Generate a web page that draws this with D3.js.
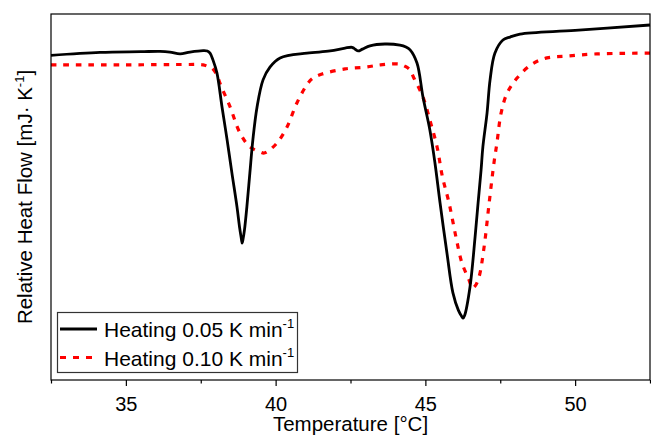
<!DOCTYPE html>
<html>
<head>
<meta charset="utf-8">
<script src="https://cdn.jsdelivr.net/npm/d3@7"></script>
<style>
  html, body { margin: 0; padding: 0; background: #fff; }
  svg { display: block; }
  text { font-family: "Liberation Sans", Arial, Helvetica, sans-serif; fill: #000; }
</style>
</head>
<body>
<svg id="chart" width="651" height="435"></svg>
<script>
// DSC heating scans: temperature [°C] vs relative heat flow (arbitrary offset units)
const tempSlow = [32.5, 34.14, 35.5, 36.14, 36.47, 36.81, 37.14, 37.58, 37.72, 37.81, 37.91, 38.04, 38.21, 38.38, 38.54, 38.71, 38.80, 38.86, 38.88, 38.91, 38.96, 39.04, 39.14, 39.24, 39.38, 39.58, 39.81, 40.15, 41.05, 41.82, 42.32, 42.55, 42.62, 42.75, 42.9, 43.15, 43.65, 44.15, 44.35, 44.49, 44.72, 44.92, 45.15, 45.32, 45.49, 45.72, 45.92, 46.10, 46.22, 46.26, 46.31, 46.49, 46.66, 46.76, 46.86, 46.92, 47.06, 47.16, 47.32, 47.59, 47.83, 48.16, 50.0, 52.5];
const flowSlow = [88.7, 89.5, 89.7, 89.8, 89.6, 89.1, 89.6, 90.0, 89.9, 89.3, 87.4, 83.9, 74.6, 65.6, 56.6, 47.3, 41.5, 38.4, 37.4, 38.4, 41.0, 47.3, 56.6, 65.6, 74.6, 82.0, 85.5, 88.0, 89.3, 89.9, 90.7, 90.9, 90.6, 89.9, 90.4, 91.3, 91.8, 91.5, 91.0, 90.2, 86.6, 77.3, 68.3, 59.3, 48.4, 34.7, 23.8, 19.1, 17.3, 16.9, 17.6, 25.4, 39.1, 48.4, 57.4, 63.7, 73.0, 82.0, 89.3, 92.9, 93.7, 94.5, 95.5, 97.0];

const tempFast = [32.5, 35.0, 37.0, 37.58, 37.81, 37.88, 38.04, 38.14, 38.48, 38.81, 39.14, 39.48, 39.60, 39.71, 40.05, 40.38, 40.71, 41.08, 41.25, 41.55, 42.32, 43.0, 43.5, 44.0, 44.15, 44.35, 44.49, 44.6, 44.92, 45.15, 45.39, 45.57, 45.79, 46.02, 46.22, 46.46, 46.56, 46.66, 46.79, 46.96, 47.13, 47.29, 47.39, 47.53, 47.73, 48.06, 48.56, 49.06, 49.73, 50.73, 52.5];
const flowFast = [86.1, 86.1, 86.2, 86.1, 85.4, 85.2, 83.4, 81.1, 74.6, 67.5, 63.7, 62.3, 62.0, 62.3, 64.8, 69.1, 75.7, 81.1, 82.5, 83.6, 85.0, 85.5, 86.1, 86.4, 86.3, 85.6, 84.7, 82.8, 77.3, 71.0, 63.7, 55.5, 48.4, 39.1, 32.0, 27.3, 25.1, 25.7, 28.1, 36.3, 48.4, 59.3, 64.8, 73.0, 78.4, 82.5, 86.3, 88.0, 88.5, 89.1, 89.3];

const majorTicks = [35, 40, 45, 50];
const minorTicks = [32.5, 37.5, 42.5, 47.5, 52.5];
const seriesNames = ["Heating 0.05 K min", "Heating 0.10 K min"];
const xTitle = "Temperature [°C]";
const yTitle = "Relative Heat Flow [mJ· K";

const svg = d3.select("#chart");
const margin = { left: 51, top: 14, right: 1, bottom: 55 };
const W = 651, H = 435;

const x = d3.scaleLinear().domain([32.5, 52.5]).range([margin.left, W - margin.right]);
const y = d3.scaleLinear().domain([0, 100]).range([H - margin.bottom, margin.top]);

// curves
const line = d3.line()
  .x(d => x(d[0]))
  .y(d => y(d[1]))
  .curve(d3.curveCatmullRom.alpha(0.5));

const slow = d3.zip(tempSlow, flowSlow);
const fast = d3.zip(tempFast, flowFast);

svg.append("path").datum(fast)
  .attr("d", line)
  .attr("fill", "none")
  .attr("stroke", "#ff0000")
  .attr("stroke-width", 3.2)
  .attr("stroke-dasharray", "5.5,7");

svg.append("path").datum(slow)
  .attr("d", line)
  .attr("fill", "none")
  .attr("stroke", "#000")
  .attr("stroke-width", 2.8)
  .attr("stroke-linejoin", "round");

// frame
svg.append("rect")
  .attr("x", margin.left).attr("y", margin.top)
  .attr("width", W - margin.right - margin.left)
  .attr("height", H - margin.bottom - margin.top)
  .attr("fill", "none").attr("stroke", "#000").attr("stroke-width", 1.2);

// bottom axis: major ticks with labels, minor ticks without
const gx = svg.append("g").attr("transform", `translate(0,${H - margin.bottom})`);
gx.call(d3.axisBottom(x).tickValues(majorTicks).tickSize(6).tickPadding(11).tickFormat(d3.format("d")));
gx.select(".domain").remove();
gx.selectAll(".tick line").attr("stroke", "#000").attr("stroke-width", 1.2);
gx.selectAll(".tick text").attr("font-size", 20).attr("font-family", "Liberation Sans, Arial, sans-serif");

const gm = svg.append("g").attr("transform", `translate(0,${H - margin.bottom})`);
gm.call(d3.axisBottom(x).tickValues(minorTicks).tickSize(3.5).tickFormat(""));
gm.select(".domain").remove();
gm.selectAll(".tick line").attr("stroke", "#000").attr("stroke-width", 1.2);

// axis titles
svg.append("text")
  .attr("x", (margin.left + W - margin.right) / 2)
  .attr("y", 431)
  .attr("text-anchor", "middle")
  .attr("font-size", 20.5)
  .text(xTitle);

const yt = svg.append("text")
  .attr("transform", `translate(32,${(margin.top + H - margin.bottom) / 2}) rotate(-90)`)
  .attr("text-anchor", "middle")
  .attr("font-size", 20.5);
yt.append("tspan").text(yTitle);
yt.append("tspan").attr("font-size", 13).attr("dy", -8).text("-1");
yt.append("tspan").attr("dy", 8).text("]");

// legend
const lg = svg.append("g");
lg.append("rect")
  .attr("x", 57.5).attr("y", 312.5).attr("width", 240).attr("height", 60)
  .attr("fill", "#fff").attr("stroke", "#333").attr("stroke-width", 1.2);

const legendRows = [
  { name: seriesNames[0], color: "#000", dash: null, width: 2.8, cy: 329 },
  { name: seriesNames[1], color: "#ff0000", dash: "6,7", width: 3.2, cy: 357.5 }
];
legendRows.forEach(r => {
  lg.append("line")
    .attr("x1", 60).attr("x2", 97).attr("y1", r.cy).attr("y2", r.cy)
    .attr("stroke", r.color).attr("stroke-width", r.width)
    .attr("stroke-dasharray", r.dash);
  const t = lg.append("text")
    .attr("x", 104).attr("y", r.cy + 8)
    .attr("font-size", 21);
  t.append("tspan").text(r.name);
  t.append("tspan").attr("font-size", 13).attr("dy", -9).text("-1");
});
</script>
</body>
</html>
